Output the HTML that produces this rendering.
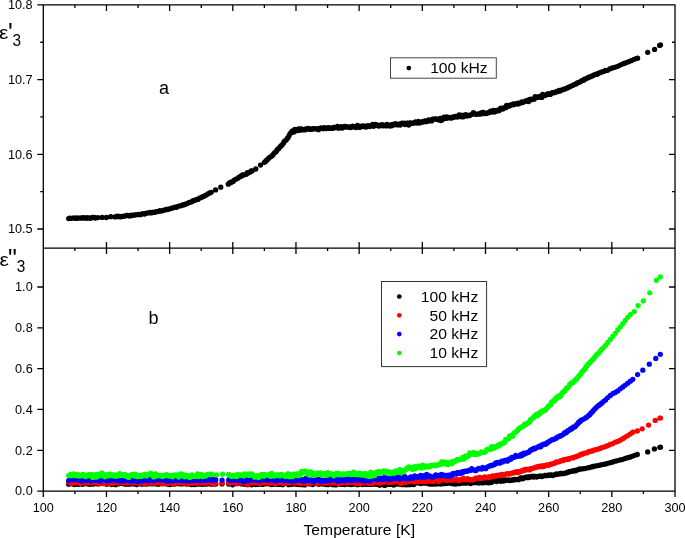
<!DOCTYPE html>
<html lang="en">
<head>
<meta charset="utf-8">
<title>Dielectric permittivity vs temperature</title>
<style>
html,body{margin:0;padding:0;background:#fff;}
body{width:685px;height:538px;overflow:hidden;}
svg{display:block;font-family:"Liberation Sans",Arial,sans-serif;fill:#000;}
.tk{font-size:12.7px;}
.lg{font-size:14.8px;}
.pl{font-size:18px;}
.ax{font-size:18px;}
.pr{font-size:25px;}
.sub{font-size:16.2px;}
.d{fill:none;stroke-width:5.3;stroke-linecap:round;}
</style>
</head>
<body>
<svg width="685" height="538" viewBox="0 0 685 538">
<rect width="685" height="538" fill="#fff"/>
<!-- measured points, top panel -->
<path class="d" stroke="#000" d="M68.7 218.6h0M69.7 218.2h0M70.6 218.3h0M71.6 218.3h0M72.5 218.1h0M73.5 218.2h0M74.4 218.2h0M75.4 217.8h0M76.3 218.4h0M77.3 218.3h0M78.2 218.0h0M79.2 218.1h0M80.1 218.2h0M81.1 218.0h0M82.0 218.0h0M83.0 217.7h0M83.9 218.1h0M84.9 218.0h0M85.8 218.0h0M86.8 217.7h0M87.7 218.3h0M88.7 217.9h0M89.6 217.8h0M90.6 218.3h0M91.5 217.8h0M92.5 217.5h0M93.4 217.7h0M94.4 217.3h0M95.3 218.0h0M97.8 217.6h0M102.1 217.4h0M106.4 217.5h0M110.7 216.7h0M115.0 216.9h0M117.2 216.2h0M118.1 216.5h0M119.1 216.3h0M120.0 216.8h0M121.0 216.8h0M121.9 216.3h0M122.9 216.4h0M123.8 216.1h0M124.8 216.1h0M125.7 215.8h0M126.7 215.5h0M127.6 215.4h0M128.6 215.7h0M129.5 216.0h0M130.5 215.5h0M131.4 215.2h0M132.4 215.6h0M133.3 215.2h0M134.3 215.0h0M135.2 215.0h0M136.2 214.8h0M137.1 214.6h0M138.1 214.3h0M139.0 214.6h0M140.0 214.4h0M140.9 214.5h0M141.9 214.1h0M142.8 213.6h0M143.8 213.8h0M144.7 214.0h0M145.6 213.5h0M146.6 213.2h0M147.5 213.0h0M148.5 212.8h0M149.4 212.8h0M150.4 212.5h0M151.3 212.9h0M152.3 212.3h0M153.2 212.3h0M154.2 212.4h0M155.1 212.2h0M156.1 211.7h0M157.0 211.6h0M158.0 211.6h0M158.9 211.2h0M159.9 210.7h0M160.8 211.1h0M161.8 210.9h0M162.7 210.6h0M163.7 210.1h0M164.6 210.0h0M165.6 209.7h0M166.5 209.5h0M167.5 209.5h0M168.4 209.3h0M169.4 208.9h0M170.3 208.6h0M171.3 208.4h0M172.2 208.0h0M173.2 207.7h0M174.1 207.3h0M175.1 207.2h0M176.0 207.4h0M177.0 206.9h0M177.9 206.4h0M178.9 206.1h0M179.8 205.8h0M180.8 205.8h0M181.7 205.5h0M182.7 204.9h0M183.6 204.9h0M184.6 204.3h0M185.5 204.3h0M186.5 203.7h0M187.4 203.6h0M188.4 202.8h0M189.3 202.4h0M190.3 202.2h0M191.2 201.9h0M192.2 201.4h0M193.1 200.7h0M194.1 200.6h0M195.0 200.2h0M196.0 199.7h0M196.9 199.3h0M197.9 199.4h0M198.8 198.6h0M199.8 198.0h0M200.7 197.8h0M201.7 197.2h0M202.6 196.7h0M203.6 196.4h0M204.5 195.8h0M205.5 195.3h0M206.4 194.9h0M207.4 194.3h0M208.3 193.6h0M209.3 193.2h0M210.2 192.7h0M211.2 192.3h0M215.6 189.9h0M220.8 187.2h0M228.3 184.2h0M229.2 183.2h0M230.2 182.4h0M231.1 182.5h0M232.1 181.6h0M233.0 181.4h0M234.0 180.5h0M234.9 179.8h0M235.9 179.1h0M236.8 178.8h0M237.8 178.3h0M238.7 177.5h0M239.7 177.1h0M240.6 176.1h0M241.6 176.1h0M242.5 175.0h0M243.5 175.0h0M244.4 174.8h0M245.4 174.5h0M246.3 174.2h0M247.3 172.7h0M248.2 173.0h0M249.2 172.6h0M250.1 172.1h0M251.1 171.0h0M252.0 170.9h0M255.8 169.0h0M260.5 165.1h0M264.4 162.3h0M265.3 161.7h0M266.3 160.4h0M267.2 159.9h0M268.2 158.6h0M269.1 157.9h0M270.1 157.1h0M271.0 156.6h0M272.0 155.7h0M272.9 154.9h0M273.9 153.3h0M274.8 152.6h0M275.8 151.9h0M276.7 150.7h0M277.7 149.1h0M278.6 148.7h0M279.6 147.3h0M280.5 146.5h0M281.5 145.4h0M282.4 144.6h0M283.4 143.2h0M284.3 141.5h0M285.3 140.6h0M286.2 140.1h0M287.2 138.5h0M288.1 137.4h0M289.1 135.6h0M290.0 133.6h0M291.0 133.0h0M291.9 131.5h0M292.9 130.7h0M293.8 132.1h0M294.8 129.4h0M295.7 130.8h0M296.7 130.7h0M297.6 130.1h0M298.6 128.9h0M299.5 130.4h0M300.5 128.8h0M301.4 128.8h0M302.4 129.3h0M303.3 129.9h0M304.3 129.5h0M305.2 129.8h0M306.2 129.0h0M307.1 129.1h0M308.1 128.5h0M309.0 128.9h0M310.0 129.4h0M310.9 128.9h0M311.9 129.3h0M312.8 128.6h0M313.8 128.6h0M314.7 128.9h0M315.7 128.7h0M316.6 129.1h0M317.6 128.8h0M318.5 129.7h0M319.5 128.4h0M320.4 128.3h0M321.4 127.8h0M322.3 128.4h0M323.3 128.7h0M324.2 127.7h0M325.2 128.1h0M326.1 128.5h0M327.1 127.9h0M328.0 127.6h0M329.0 128.4h0M329.9 127.8h0M330.9 128.0h0M331.8 128.4h0M332.8 128.4h0M333.7 127.4h0M334.7 127.3h0M335.6 127.7h0M336.6 127.4h0M337.5 126.4h0M338.5 128.2h0M339.4 127.4h0M340.4 127.8h0M341.3 126.6h0M342.3 128.1h0M343.2 126.9h0M344.2 127.2h0M345.1 126.3h0M346.1 127.0h0M347.0 127.0h0M348.0 126.9h0M348.9 127.3h0M349.9 127.0h0M350.8 127.5h0M351.8 126.6h0M352.7 126.2h0M353.7 126.8h0M354.6 127.1h0M355.6 127.5h0M356.5 127.1h0M357.5 125.5h0M358.4 126.8h0M359.4 127.4h0M360.3 126.5h0M361.3 126.1h0M362.2 126.5h0M363.2 126.0h0M364.1 126.6h0M365.1 126.2h0M366.0 127.0h0M367.0 126.4h0M367.9 125.6h0M368.9 126.4h0M369.8 126.5h0M370.8 125.6h0M371.7 125.6h0M372.7 124.4h0M373.6 126.3h0M374.6 125.4h0M375.5 124.4h0M376.5 124.6h0M377.4 125.5h0M378.4 126.0h0M379.3 125.5h0M380.3 125.8h0M381.2 124.8h0M382.2 124.6h0M383.1 125.8h0M384.1 125.5h0M385.0 125.2h0M386.0 125.9h0M386.9 124.5h0M387.9 124.8h0M388.8 125.6h0M389.8 126.0h0M390.7 124.8h0M391.7 125.8h0M392.6 124.4h0M393.6 124.9h0M394.5 124.5h0M395.5 123.6h0M396.4 124.6h0M397.4 124.9h0M398.3 124.2h0M399.3 124.2h0M400.2 125.0h0M401.2 123.3h0M402.1 123.1h0M403.1 123.6h0M404.0 123.2h0M405.0 124.6h0M405.9 123.9h0M406.9 123.1h0M407.8 123.2h0M408.8 125.1h0M409.7 123.0h0M410.7 122.8h0M411.6 123.3h0M412.6 123.4h0M413.5 123.1h0M414.5 122.3h0M415.4 122.0h0M416.4 123.0h0M417.3 122.5h0M418.3 121.4h0M419.2 123.0h0M420.2 122.7h0M421.1 121.9h0M422.1 121.8h0M423.0 122.0h0M424.0 121.3h0M424.9 120.8h0M425.9 121.7h0M426.8 120.6h0M427.8 121.3h0M428.7 119.9h0M429.7 120.4h0M430.6 120.0h0M431.6 120.9h0M432.5 119.1h0M433.5 118.8h0M434.4 119.2h0M435.4 118.8h0M436.3 119.0h0M437.3 119.5h0M438.2 119.6h0M439.2 120.1h0M440.1 118.5h0M441.1 120.5h0M442.0 120.0h0M443.0 118.6h0M443.9 117.2h0M444.9 118.4h0M445.8 118.4h0M446.8 116.9h0M447.7 118.1h0M448.7 117.8h0M449.6 117.3h0M450.6 118.0h0M451.5 118.1h0M452.5 117.1h0M453.4 117.4h0M454.4 116.7h0M455.3 116.5h0M456.3 116.8h0M457.2 117.0h0M458.2 116.2h0M459.1 115.0h0M460.1 116.6h0M461.0 115.2h0M462.0 116.1h0M462.9 116.9h0M463.9 115.8h0M464.8 114.9h0M465.8 114.6h0M466.7 116.1h0M467.7 115.3h0M468.6 115.5h0M469.6 115.6h0M470.5 114.9h0M471.5 114.6h0M472.4 114.1h0M473.4 112.7h0M474.3 113.5h0M475.3 114.3h0M476.2 114.1h0M477.2 114.3h0M478.1 113.9h0M479.1 113.9h0M480.0 114.2h0M481.0 113.0h0M481.9 113.3h0M482.9 112.4h0M483.8 113.7h0M484.8 113.0h0M485.7 113.1h0M486.7 113.6h0M487.6 113.1h0M488.6 112.3h0M489.5 112.6h0M490.5 111.1h0M491.4 112.0h0M492.4 111.7h0M493.3 110.5h0M494.3 112.1h0M495.2 110.7h0M496.2 111.3h0M497.1 110.3h0M498.1 110.8h0M499.0 110.7h0M500.0 109.0h0M500.9 108.2h0M501.9 108.7h0M502.8 109.0h0M503.8 107.9h0M504.7 107.4h0M505.7 107.7h0M506.6 105.4h0M507.6 106.3h0M508.5 105.5h0M509.5 106.1h0M510.4 105.2h0M511.4 104.7h0M512.3 104.9h0M513.3 104.0h0M514.2 104.6h0M515.2 103.9h0M516.1 103.8h0M517.1 103.3h0M518.0 104.0h0M519.0 103.1h0M519.9 103.2h0M520.9 102.9h0M521.8 101.8h0M522.8 102.4h0M523.7 102.0h0M524.7 101.6h0M525.6 100.9h0M526.6 100.6h0M527.5 101.1h0M528.5 101.6h0M529.4 99.5h0M530.4 100.0h0M531.3 99.2h0M532.3 99.6h0M533.2 99.1h0M534.2 99.2h0M535.1 96.6h0M536.1 97.6h0M537.0 97.1h0M538.0 97.4h0M538.9 96.7h0M539.9 96.5h0M540.8 97.0h0M541.8 97.4h0M542.7 94.3h0M543.7 95.5h0M544.6 95.6h0M545.6 95.2h0M546.5 94.7h0M547.5 93.8h0M548.4 93.7h0M549.4 94.4h0M550.3 94.4h0M551.3 93.5h0M552.2 92.6h0M553.2 92.9h0M554.1 92.4h0M555.1 92.6h0M556.0 92.0h0M557.0 91.3h0M557.9 91.5h0M558.9 90.3h0M559.8 91.2h0M560.8 90.6h0M561.7 89.8h0M562.7 89.8h0M563.6 89.1h0M564.6 89.2h0M565.5 88.8h0M566.5 88.2h0M567.4 88.1h0M568.4 87.5h0M569.3 87.0h0M570.3 86.5h0M571.2 86.1h0M572.2 85.6h0M573.1 85.3h0M574.1 84.6h0M575.0 84.4h0M576.0 84.0h0M576.9 83.2h0M577.9 82.6h0M578.8 82.5h0M579.8 82.1h0M580.7 81.4h0M581.7 80.7h0M582.6 80.5h0M583.6 80.3h0M584.5 79.1h0M585.5 79.1h0M586.4 78.5h0M587.4 77.9h0M588.3 77.7h0M589.3 76.9h0M590.2 76.8h0M591.2 76.6h0M592.1 76.0h0M593.1 75.4h0M594.0 74.9h0M595.0 74.6h0M595.9 74.1h0M596.9 74.4h0M598.0 73.7h0M599.1 73.0h0M600.5 72.5h0M601.9 71.9h0M603.6 71.4h0M605.4 70.5h0M607.5 70.3h0M609.8 68.9h0M612.2 68.0h0M614.6 67.3h0M617.0 66.6h0M619.3 65.6h0M621.7 64.3h0M624.1 63.5h0M626.5 62.6h0M628.8 61.7h0M631.2 60.7h0M633.6 59.6h0M636.0 58.6h0M637.6 58.2h0M647.7 52.3h0M654.6 49.4h0M659.6 45.4h0M660.5 44.9h0"/>
<!-- measured points, bottom panel -->
<path class="d" stroke="#000" d="M68.7 484.2h0M69.7 483.3h0M70.7 483.3h0M71.7 483.1h0M72.7 484.0h0M73.7 482.7h0M74.7 484.5h0M75.7 483.4h0M76.7 483.9h0M77.7 483.7h0M78.7 484.4h0M79.7 482.9h0M80.7 483.7h0M81.7 483.7h0M82.7 484.3h0M83.7 483.3h0M84.7 483.7h0M85.7 483.3h0M86.7 483.7h0M87.7 483.9h0M88.7 483.3h0M89.7 484.3h0M90.7 484.2h0M91.7 484.0h0M92.7 484.2h0M93.7 483.5h0M94.7 483.7h0M95.7 483.3h0M96.7 483.6h0M97.7 483.9h0M98.7 483.4h0M99.7 483.5h0M100.7 483.4h0M101.7 483.3h0M102.7 483.4h0M103.7 483.7h0M104.7 483.1h0M105.7 483.6h0M106.7 484.2h0M107.7 483.9h0M108.7 483.6h0M109.7 483.4h0M110.7 483.5h0M111.7 484.6h0M112.7 483.9h0M113.7 483.6h0M114.7 483.9h0M115.7 484.7h0M116.7 483.8h0M117.7 483.9h0M118.7 483.7h0M119.7 483.4h0M120.7 483.0h0M121.7 483.3h0M122.7 483.4h0M123.7 483.8h0M124.7 484.0h0M125.7 484.1h0M126.7 483.9h0M127.7 484.1h0M128.7 483.4h0M129.7 484.2h0M130.7 483.8h0M131.7 483.5h0M132.7 483.8h0M133.7 483.5h0M134.7 484.1h0M135.7 484.3h0M136.7 484.6h0M137.7 483.1h0M138.7 483.1h0M139.7 483.5h0M140.7 483.8h0M141.7 484.2h0M142.7 483.9h0M143.7 482.9h0M144.7 483.6h0M145.7 484.0h0M146.7 483.7h0M147.7 483.9h0M148.7 483.5h0M149.7 483.6h0M150.7 483.7h0M151.7 483.8h0M152.7 483.8h0M153.7 483.7h0M154.7 483.4h0M155.7 483.9h0M156.7 483.8h0M157.7 484.2h0M158.7 484.2h0M159.7 483.8h0M160.7 483.5h0M161.7 483.3h0M162.7 483.8h0M163.7 483.6h0M164.7 483.4h0M165.7 483.7h0M166.7 483.5h0M167.7 484.2h0M168.7 483.8h0M169.7 484.5h0M170.7 484.1h0M171.7 484.2h0M172.7 483.4h0M173.7 483.8h0M174.7 484.0h0M175.7 483.2h0M176.7 483.4h0M177.7 483.5h0M178.7 482.9h0M179.7 483.6h0M180.7 483.9h0M181.7 483.2h0M182.7 483.8h0M183.7 483.1h0M184.7 483.7h0M185.7 483.0h0M186.7 484.1h0M187.7 483.8h0M188.7 483.7h0M189.7 483.4h0M190.7 484.3h0M191.7 484.6h0M192.7 483.0h0M193.7 484.3h0M194.7 484.5h0M195.7 483.9h0M196.7 483.3h0M197.7 484.2h0M198.7 483.8h0M199.7 483.6h0M200.7 483.4h0M201.7 484.2h0M202.7 484.3h0M203.7 483.6h0M204.7 484.1h0M205.7 483.3h0M206.7 484.1h0M207.7 483.8h0M208.7 483.7h0M209.7 483.7h0M210.7 484.1h0M211.7 484.1h0M212.7 484.0h0M213.7 483.9h0M214.7 483.8h0M215.7 484.1h0M222.0 483.9h0M228.7 484.1h0M229.7 483.7h0M230.7 482.8h0M231.7 484.3h0M232.7 484.8h0M233.7 484.0h0M234.7 483.7h0M235.7 483.6h0M236.7 483.6h0M237.7 483.6h0M238.7 483.1h0M239.7 483.4h0M240.7 483.2h0M241.7 483.9h0M242.7 483.7h0M243.7 484.1h0M244.7 483.8h0M245.7 484.3h0M246.7 483.9h0M247.7 484.7h0M248.7 482.9h0M249.7 483.4h0M250.7 484.1h0M251.7 484.8h0M252.7 483.6h0M253.7 483.8h0M254.7 483.8h0M255.7 484.5h0M256.7 483.9h0M257.7 484.4h0M258.7 484.0h0M259.7 483.6h0M260.7 484.2h0M261.7 484.2h0M262.7 484.4h0M263.7 483.7h0M264.7 483.4h0M265.7 483.8h0M266.7 483.7h0M267.7 483.7h0M268.7 483.6h0M269.7 484.1h0M270.7 483.8h0M271.7 484.5h0M272.7 484.2h0M273.7 484.1h0M274.7 483.1h0M275.7 484.1h0M276.7 484.1h0M277.7 484.3h0M278.7 484.4h0M279.7 483.8h0M280.7 484.3h0M281.7 483.7h0M282.7 484.7h0M283.7 483.2h0M284.7 483.0h0M285.7 483.1h0M286.7 483.4h0M287.7 483.3h0M288.7 484.7h0M289.7 483.7h0M290.7 483.3h0M291.7 484.3h0M292.7 483.6h0M293.7 483.3h0M294.7 484.1h0M295.7 484.0h0M296.7 483.6h0M297.7 484.4h0M298.7 483.9h0M299.7 484.6h0M300.7 484.2h0M301.7 484.6h0M302.7 484.0h0M303.7 483.4h0M304.7 484.9h0M305.7 483.5h0M306.7 483.7h0M307.7 483.4h0M308.7 483.7h0M309.7 483.9h0M310.7 483.9h0M311.7 484.1h0M312.7 484.6h0M313.7 483.7h0M314.7 483.2h0M315.7 483.3h0M316.7 483.5h0M317.7 483.1h0M318.7 484.2h0M319.7 483.7h0M320.7 483.8h0M321.7 483.9h0M322.7 483.4h0M323.7 483.6h0M324.7 484.3h0M325.7 484.2h0M326.7 483.8h0M327.7 484.7h0M328.7 483.4h0M329.7 483.8h0M330.7 483.8h0M331.7 482.7h0M332.7 484.7h0M333.7 484.1h0M334.7 483.5h0M335.7 484.9h0M336.7 484.3h0M337.7 484.2h0M338.7 483.8h0M339.7 484.1h0M340.7 483.4h0M341.7 484.4h0M342.7 483.9h0M343.7 484.2h0M344.7 484.6h0M345.7 484.2h0M346.7 484.1h0M347.7 484.1h0M348.7 483.7h0M349.7 484.3h0M350.7 484.6h0M351.7 484.2h0M352.7 484.3h0M353.7 483.5h0M354.7 483.6h0M355.7 483.3h0M356.7 484.5h0M357.7 483.9h0M358.7 484.6h0M359.7 483.7h0M360.7 483.8h0M361.7 484.1h0M362.7 484.5h0M363.7 484.1h0M364.7 484.2h0M365.7 484.2h0M366.7 484.4h0M367.7 483.9h0M368.7 484.4h0M369.7 484.3h0M370.7 484.3h0M371.7 484.4h0M372.7 483.9h0M373.7 484.1h0M374.7 484.0h0M375.7 484.2h0M376.7 484.4h0M377.7 483.7h0M378.7 484.5h0M379.7 485.2h0M380.7 483.8h0M381.7 484.3h0M382.7 484.4h0M383.7 484.7h0M384.7 485.4h0M385.7 484.6h0M386.7 484.1h0M387.7 484.4h0M388.7 483.7h0M389.7 484.3h0M390.7 483.8h0M391.7 484.3h0M392.7 483.4h0M393.7 485.0h0M394.7 484.2h0M395.7 484.3h0M396.7 484.1h0M397.7 483.9h0M398.7 483.9h0M399.7 484.3h0M400.7 484.1h0M401.7 484.6h0M402.7 484.1h0M403.7 484.7h0M404.7 484.7h0M405.7 484.0h0M406.7 484.8h0M407.7 484.2h0M408.7 484.7h0M409.7 484.4h0M410.7 484.6h0M411.7 483.6h0M412.7 483.9h0M413.7 484.5h0M414.7 483.6h0M415.7 483.0h0M416.7 482.9h0M417.7 482.5h0M418.7 482.5h0M419.7 483.0h0M420.7 483.6h0M421.7 482.8h0M422.7 483.1h0M423.7 482.9h0M424.7 483.0h0M425.7 483.0h0M426.7 483.0h0M427.7 483.4h0M428.7 482.9h0M429.7 484.0h0M430.7 484.1h0M431.7 483.7h0M432.7 484.2h0M433.7 483.6h0M434.7 483.8h0M435.7 484.1h0M436.7 483.9h0M437.7 483.8h0M438.7 483.6h0M439.7 483.6h0M440.7 484.1h0M441.7 482.8h0M442.7 483.7h0M443.7 483.3h0M444.7 483.6h0M445.7 483.4h0M446.7 481.9h0M447.7 483.3h0M448.7 483.2h0M449.7 483.1h0M450.7 482.9h0M451.7 483.5h0M452.7 482.9h0M453.7 483.8h0M454.7 483.2h0M455.7 484.0h0M456.7 482.8h0M457.7 482.6h0M458.7 483.7h0M459.7 483.6h0M460.7 483.2h0M461.7 482.3h0M462.7 482.7h0M463.7 483.2h0M464.7 482.9h0M465.7 483.0h0M466.7 483.0h0M467.7 482.7h0M468.7 482.8h0M469.7 482.3h0M470.7 483.6h0M471.7 482.5h0M472.7 482.7h0M473.7 481.9h0M474.7 482.5h0M475.7 481.3h0M476.7 482.5h0M477.7 482.1h0M478.7 483.1h0M479.7 481.7h0M480.7 482.3h0M481.7 482.5h0M482.7 482.9h0M483.7 482.3h0M484.7 482.6h0M485.7 481.7h0M486.7 482.3h0M487.7 482.7h0M488.7 482.8h0M489.7 481.9h0M490.7 482.6h0M491.7 482.2h0M492.7 481.3h0M493.7 480.2h0M494.7 480.4h0M495.7 480.8h0M496.7 481.6h0M497.7 481.1h0M498.7 480.0h0M499.7 480.7h0M500.7 481.3h0M501.7 480.3h0M502.7 480.0h0M503.7 481.1h0M504.7 480.2h0M505.7 479.9h0M506.7 480.3h0M507.7 480.1h0M508.7 479.9h0M509.7 480.5h0M510.7 480.4h0M511.7 480.1h0M512.7 479.6h0M513.7 480.0h0M514.7 479.4h0M515.7 479.5h0M516.7 479.6h0M517.7 479.3h0M518.7 479.7h0M519.7 479.0h0M520.7 478.0h0M521.7 478.0h0M522.7 478.8h0M523.7 477.8h0M524.7 477.8h0M525.7 477.1h0M526.7 477.6h0M527.7 476.9h0M528.7 477.5h0M529.7 476.6h0M530.7 477.1h0M531.7 476.8h0M532.7 476.2h0M533.7 477.0h0M534.7 476.3h0M535.7 476.4h0M536.7 477.0h0M537.7 476.5h0M538.7 476.4h0M539.7 476.3h0M540.7 476.0h0M541.7 476.6h0M542.7 476.3h0M543.7 475.8h0M544.7 475.5h0M545.7 475.5h0M546.7 475.7h0M547.7 475.3h0M548.7 474.8h0M549.7 475.3h0M550.7 475.0h0M551.7 475.0h0M552.7 475.6h0M553.7 474.9h0M554.7 474.7h0M555.7 474.1h0M556.7 474.0h0M557.7 474.3h0M558.7 473.8h0M559.7 473.9h0M560.7 473.4h0M561.7 473.3h0M562.7 473.6h0M563.7 473.6h0M564.7 473.1h0M565.7 473.0h0M566.7 472.8h0M567.7 472.4h0M568.7 471.7h0M569.7 471.7h0M570.7 471.6h0M571.7 471.2h0M572.7 471.2h0M573.7 470.7h0M574.7 470.7h0M575.7 470.8h0M576.7 469.9h0M577.7 469.8h0M578.7 469.6h0M579.7 469.0h0M580.7 469.1h0M581.7 468.8h0M582.7 468.8h0M583.7 468.7h0M584.7 468.6h0M585.7 468.3h0M586.7 468.1h0M587.7 467.8h0M588.7 467.7h0M589.7 467.6h0M590.7 467.1h0M591.7 466.9h0M592.7 466.5h0M593.7 466.5h0M594.7 466.1h0M595.7 465.9h0M596.7 465.8h0M597.8 465.6h0M599.0 465.4h0M600.4 465.1h0M601.9 464.6h0M603.7 464.3h0M605.6 464.0h0M607.8 463.3h0M610.3 462.7h0M612.8 462.0h0M615.3 461.2h0M617.8 460.6h0M620.3 459.9h0M622.8 459.3h0M625.3 458.4h0M627.8 457.7h0M630.3 457.0h0M632.8 456.1h0M635.3 455.1h0M637.3 454.5h0M647.7 451.9h0M654.4 448.9h0M659.8 447.3h0M660.5 447.2h0"/>
<path class="d" stroke="#f00" d="M68.7 482.4h0M69.7 482.6h0M70.7 481.7h0M71.7 483.3h0M72.7 481.9h0M73.7 482.2h0M74.7 482.8h0M75.7 482.0h0M76.7 482.1h0M77.7 482.2h0M78.7 482.8h0M79.7 483.6h0M80.7 482.7h0M81.7 482.2h0M82.7 482.9h0M83.7 482.4h0M84.7 482.6h0M85.7 483.1h0M86.7 482.3h0M87.7 482.6h0M88.7 482.3h0M89.7 482.6h0M90.7 482.8h0M91.7 482.3h0M92.7 482.6h0M93.7 482.7h0M94.7 482.5h0M95.7 482.2h0M96.7 482.1h0M97.7 482.7h0M98.7 482.7h0M99.7 483.8h0M100.7 481.8h0M101.7 482.9h0M102.7 483.0h0M103.7 483.4h0M104.7 483.0h0M105.7 482.4h0M106.7 482.7h0M107.7 483.0h0M108.7 482.6h0M109.7 483.1h0M110.7 482.0h0M111.7 483.5h0M112.7 483.3h0M113.7 482.5h0M114.7 482.8h0M115.7 482.5h0M116.7 482.1h0M117.7 482.5h0M118.7 482.9h0M119.7 482.3h0M120.7 482.2h0M121.7 482.4h0M122.7 482.6h0M123.7 483.0h0M124.7 482.3h0M125.7 482.8h0M126.7 482.8h0M127.7 481.9h0M128.7 482.5h0M129.7 482.7h0M130.7 482.8h0M131.7 482.9h0M132.7 481.9h0M133.7 482.8h0M134.7 482.4h0M135.7 482.1h0M136.7 482.9h0M137.7 483.0h0M138.7 482.4h0M139.7 483.1h0M140.7 482.6h0M141.7 482.8h0M142.7 482.4h0M143.7 483.6h0M144.7 481.8h0M145.7 482.9h0M146.7 483.3h0M147.7 482.1h0M148.7 482.8h0M149.7 482.8h0M150.7 483.1h0M151.7 483.2h0M152.7 482.4h0M153.7 482.0h0M154.7 483.1h0M155.7 483.1h0M156.7 482.3h0M157.7 482.7h0M158.7 482.7h0M159.7 482.8h0M160.7 482.7h0M161.7 483.3h0M162.7 482.0h0M163.7 483.3h0M164.7 483.0h0M165.7 482.7h0M166.7 483.3h0M167.7 481.8h0M168.7 483.3h0M169.7 482.9h0M170.7 482.3h0M171.7 483.0h0M172.7 482.7h0M173.7 483.9h0M174.7 483.5h0M175.7 483.0h0M176.7 482.5h0M177.7 482.5h0M178.7 482.7h0M179.7 482.5h0M180.7 482.4h0M181.7 482.5h0M182.7 482.6h0M183.7 482.5h0M184.7 482.4h0M185.7 482.4h0M186.7 483.9h0M187.7 482.3h0M188.7 482.5h0M189.7 483.1h0M190.7 482.8h0M191.7 483.0h0M192.7 483.2h0M193.7 483.3h0M194.7 483.1h0M195.7 482.3h0M196.7 483.2h0M197.7 481.9h0M198.7 482.6h0M199.7 482.4h0M200.7 482.2h0M201.7 482.9h0M202.7 482.5h0M203.7 483.0h0M204.7 482.0h0M205.7 483.0h0M206.7 482.9h0M207.7 482.8h0M208.7 482.1h0M209.7 482.6h0M210.7 482.1h0M211.7 481.9h0M212.7 484.2h0M213.7 483.2h0M214.7 483.6h0M215.7 482.6h0M222.2 483.1h0M228.7 483.0h0M229.7 482.9h0M230.7 482.6h0M231.7 482.4h0M232.7 481.6h0M233.7 482.8h0M234.7 482.8h0M235.7 483.1h0M236.7 482.5h0M237.7 483.3h0M238.7 482.3h0M239.7 482.0h0M240.7 482.9h0M241.7 482.4h0M242.7 482.1h0M243.7 482.8h0M244.7 483.1h0M245.7 482.9h0M246.7 483.0h0M247.7 484.5h0M248.7 483.0h0M249.7 483.2h0M250.7 481.7h0M251.7 482.7h0M252.7 482.9h0M253.7 482.4h0M254.7 482.2h0M255.7 482.8h0M256.7 482.5h0M257.7 482.4h0M258.7 483.2h0M259.7 483.3h0M260.7 482.9h0M261.7 482.5h0M262.7 482.9h0M263.7 483.0h0M264.7 482.9h0M265.7 482.0h0M266.7 482.5h0M267.7 482.8h0M268.7 483.0h0M269.7 483.1h0M270.7 483.1h0M271.7 482.3h0M272.7 482.4h0M273.7 482.2h0M274.7 483.5h0M275.7 482.8h0M276.7 483.0h0M277.7 483.2h0M278.7 482.6h0M279.7 482.2h0M280.7 482.5h0M281.7 482.6h0M282.7 483.3h0M283.7 483.1h0M284.7 482.3h0M285.7 483.1h0M286.7 483.1h0M287.7 482.3h0M288.7 482.7h0M289.7 481.9h0M290.7 482.8h0M291.7 482.5h0M292.7 482.1h0M293.7 482.4h0M294.7 482.8h0M295.7 482.4h0M296.7 482.8h0M297.7 482.9h0M298.7 482.4h0M299.7 482.7h0M300.7 483.8h0M301.7 483.0h0M302.7 482.7h0M303.7 483.1h0M304.7 482.5h0M305.7 483.5h0M306.7 483.1h0M307.7 483.3h0M308.7 483.1h0M309.7 482.8h0M310.7 483.0h0M311.7 482.7h0M312.7 482.3h0M313.7 482.2h0M314.7 482.4h0M315.7 481.6h0M316.7 483.5h0M317.7 482.0h0M318.7 482.7h0M319.7 482.3h0M320.7 482.0h0M321.7 482.8h0M322.7 482.8h0M323.7 482.9h0M324.7 483.1h0M325.7 482.6h0M326.7 482.9h0M327.7 482.9h0M328.7 482.5h0M329.7 482.5h0M330.7 482.8h0M331.7 482.7h0M332.7 482.8h0M333.7 481.8h0M334.7 482.8h0M335.7 483.0h0M336.7 482.8h0M337.7 483.0h0M338.7 483.7h0M339.7 483.0h0M340.7 483.3h0M341.7 482.6h0M342.7 482.5h0M343.7 482.6h0M344.7 482.3h0M345.7 482.7h0M346.7 482.2h0M347.7 482.6h0M348.7 482.0h0M349.7 481.9h0M350.7 482.4h0M351.7 482.2h0M352.7 482.4h0M353.7 482.4h0M354.7 482.6h0M355.7 483.3h0M356.7 483.5h0M357.7 483.3h0M358.7 482.9h0M359.7 483.7h0M360.7 482.4h0M361.7 482.2h0M362.7 483.1h0M363.7 482.9h0M364.7 482.8h0M365.7 482.9h0M366.7 482.2h0M367.7 482.4h0M368.7 483.4h0M369.7 483.2h0M370.7 482.4h0M371.7 483.4h0M372.7 482.1h0M373.7 482.3h0M374.7 482.6h0M375.7 482.0h0M376.7 482.4h0M377.7 482.5h0M378.7 482.5h0M379.7 483.0h0M380.7 482.9h0M381.7 482.0h0M382.7 482.0h0M383.7 482.0h0M384.7 481.7h0M385.7 481.3h0M386.7 481.9h0M387.7 482.1h0M388.7 481.7h0M389.7 482.4h0M390.7 481.4h0M391.7 481.3h0M392.7 482.2h0M393.7 481.6h0M394.7 481.4h0M395.7 481.7h0M396.7 481.4h0M397.7 481.8h0M398.7 481.1h0M399.7 481.7h0M400.7 483.4h0M401.7 482.2h0M402.7 481.4h0M403.7 482.4h0M404.7 482.2h0M405.7 482.3h0M406.7 481.5h0M407.7 481.0h0M408.7 481.7h0M409.7 481.4h0M410.7 480.3h0M411.7 481.5h0M412.7 481.2h0M413.7 481.8h0M414.7 481.3h0M415.7 481.8h0M416.7 481.5h0M417.7 481.6h0M418.7 481.3h0M419.7 481.1h0M420.7 481.2h0M421.7 481.4h0M422.7 481.2h0M423.7 481.6h0M424.7 480.9h0M425.7 480.9h0M426.7 481.5h0M427.7 480.7h0M428.7 480.9h0M429.7 480.4h0M430.7 480.7h0M431.7 481.4h0M432.7 480.8h0M433.7 481.3h0M434.7 480.2h0M435.7 480.1h0M436.7 480.8h0M437.7 480.0h0M438.7 481.6h0M439.7 480.8h0M440.7 479.6h0M441.7 479.8h0M442.7 479.5h0M443.7 479.8h0M444.7 479.6h0M445.7 480.1h0M446.7 480.4h0M447.7 479.7h0M448.7 479.3h0M449.7 480.1h0M450.7 479.7h0M451.7 480.3h0M452.7 479.8h0M453.7 480.2h0M454.7 480.0h0M455.7 479.7h0M456.7 479.6h0M457.7 480.0h0M458.7 480.7h0M459.7 479.9h0M460.7 479.4h0M461.7 479.6h0M462.7 479.2h0M463.7 478.5h0M464.7 479.2h0M465.7 479.7h0M466.7 478.9h0M467.7 478.7h0M468.7 479.4h0M469.7 480.0h0M470.7 479.6h0M471.7 479.6h0M472.7 480.0h0M473.7 479.5h0M474.7 478.9h0M475.7 478.2h0M476.7 478.1h0M477.7 477.8h0M478.7 478.1h0M479.7 477.3h0M480.7 478.4h0M481.7 477.8h0M482.7 477.6h0M483.7 478.1h0M484.7 476.8h0M485.7 477.2h0M486.7 477.3h0M487.7 477.7h0M488.7 477.0h0M489.7 477.6h0M490.7 476.6h0M491.7 476.8h0M492.7 476.0h0M493.7 476.6h0M494.7 475.9h0M495.7 476.0h0M496.7 475.5h0M497.7 475.1h0M498.7 475.3h0M499.7 475.7h0M500.7 474.7h0M501.7 474.5h0M502.7 474.9h0M503.7 475.3h0M504.7 474.3h0M505.7 474.2h0M506.7 474.2h0M507.7 473.7h0M508.7 473.8h0M509.7 474.0h0M510.7 473.3h0M511.7 473.1h0M512.7 473.2h0M513.7 472.7h0M514.7 472.1h0M515.7 471.9h0M516.7 471.6h0M517.7 472.7h0M518.7 471.6h0M519.7 471.6h0M520.7 471.5h0M521.7 470.6h0M522.7 471.1h0M523.7 470.4h0M524.7 469.5h0M525.7 470.0h0M526.7 469.4h0M527.7 469.4h0M528.7 469.4h0M529.7 469.9h0M530.7 468.6h0M531.7 468.4h0M532.7 468.4h0M533.7 468.1h0M534.7 467.7h0M535.7 467.2h0M536.7 467.0h0M537.7 467.0h0M538.7 466.5h0M539.7 466.5h0M540.7 466.1h0M541.7 466.7h0M542.7 465.6h0M543.7 466.5h0M544.7 465.6h0M545.7 465.3h0M546.7 465.0h0M547.7 465.4h0M548.7 465.2h0M549.7 464.4h0M550.7 464.4h0M551.7 463.9h0M552.7 463.6h0M553.7 463.5h0M554.7 463.3h0M555.7 462.2h0M556.7 461.8h0M557.7 462.1h0M558.7 461.7h0M559.7 461.6h0M560.7 460.6h0M561.7 460.4h0M562.7 460.7h0M563.7 459.7h0M564.7 459.9h0M565.7 459.5h0M566.7 459.4h0M567.7 459.0h0M568.7 459.3h0M569.7 458.3h0M570.7 458.1h0M571.7 457.8h0M572.7 457.9h0M573.7 457.4h0M574.7 457.2h0M575.7 456.7h0M576.7 456.4h0M577.7 456.0h0M578.7 455.8h0M579.7 455.1h0M580.7 454.5h0M581.7 454.5h0M582.7 454.0h0M583.7 453.5h0M584.7 453.2h0M585.7 452.8h0M586.7 452.9h0M587.7 452.2h0M588.7 451.7h0M589.7 451.6h0M590.7 451.2h0M591.7 451.2h0M592.7 450.7h0M593.7 450.2h0M594.7 450.1h0M595.7 449.7h0M596.7 449.5h0M597.8 449.2h0M599.0 448.7h0M600.4 448.3h0M601.9 447.7h0M603.7 447.1h0M605.6 446.5h0M607.8 445.7h0M610.3 444.5h0M612.8 443.6h0M615.3 442.2h0M617.8 441.4h0M620.3 440.2h0M622.8 438.7h0M625.3 437.1h0M627.8 435.6h0M630.3 433.9h0M632.8 432.2h0M637.3 431.0h0M642.2 428.8h0M648.6 425.1h0M655.2 420.4h0M660.0 418.2h0M660.5 418.1h0"/>
<path class="d" stroke="#00f" d="M68.7 480.6h0M69.7 479.8h0M70.7 479.7h0M71.7 478.5h0M72.7 479.5h0M73.7 479.5h0M74.7 479.7h0M75.7 479.3h0M76.7 479.7h0M77.7 479.5h0M78.7 479.1h0M79.7 480.4h0M80.7 480.5h0M81.7 481.0h0M82.7 480.1h0M83.7 479.8h0M84.7 479.7h0M85.7 479.1h0M86.7 480.6h0M87.7 479.4h0M88.7 479.4h0M89.7 480.0h0M90.7 481.0h0M91.7 480.3h0M92.7 479.5h0M93.7 479.6h0M94.7 480.3h0M95.7 479.8h0M96.7 479.5h0M97.7 479.8h0M98.7 480.4h0M99.7 481.2h0M100.7 479.2h0M101.7 479.6h0M102.7 479.5h0M103.7 478.6h0M104.7 479.6h0M105.7 479.6h0M106.7 481.0h0M107.7 480.3h0M108.7 479.4h0M109.7 480.7h0M110.7 480.0h0M111.7 479.1h0M112.7 479.8h0M113.7 479.8h0M114.7 479.7h0M115.7 480.3h0M116.7 478.9h0M117.7 480.1h0M118.7 480.8h0M119.7 480.7h0M120.7 480.8h0M121.7 480.7h0M122.7 480.9h0M123.7 479.4h0M124.7 480.5h0M125.7 478.9h0M126.7 479.7h0M127.7 478.9h0M128.7 480.7h0M129.7 480.8h0M130.7 480.0h0M131.7 481.2h0M132.7 479.8h0M133.7 480.4h0M134.7 480.5h0M135.7 479.8h0M136.7 480.6h0M137.7 481.5h0M138.7 479.6h0M139.7 480.7h0M140.7 480.0h0M141.7 481.1h0M142.7 480.3h0M143.7 480.4h0M144.7 480.4h0M145.7 480.2h0M146.7 479.2h0M147.7 480.8h0M148.7 479.1h0M149.7 480.1h0M150.7 480.3h0M151.7 479.5h0M152.7 480.1h0M153.7 480.7h0M154.7 480.0h0M155.7 479.4h0M156.7 478.2h0M157.7 479.4h0M158.7 479.6h0M159.7 479.6h0M160.7 479.2h0M161.7 480.0h0M162.7 479.4h0M163.7 479.6h0M164.7 480.1h0M165.7 479.2h0M166.7 479.7h0M167.7 481.2h0M168.7 480.6h0M169.7 479.4h0M170.7 480.2h0M171.7 480.6h0M172.7 481.0h0M173.7 480.3h0M174.7 479.8h0M175.7 479.6h0M176.7 480.4h0M177.7 480.2h0M178.7 479.7h0M179.7 479.9h0M180.7 479.8h0M181.7 480.5h0M182.7 479.7h0M183.7 480.4h0M184.7 480.6h0M185.7 480.4h0M186.7 479.6h0M187.7 480.9h0M188.7 479.8h0M189.7 480.6h0M190.7 480.0h0M191.7 479.4h0M192.7 480.6h0M193.7 480.5h0M194.7 480.2h0M195.7 480.3h0M196.7 479.6h0M197.7 479.4h0M198.7 479.6h0M199.7 480.8h0M200.7 480.2h0M201.7 479.4h0M202.7 480.1h0M203.7 479.6h0M204.7 479.6h0M205.7 480.4h0M206.7 479.5h0M207.7 478.8h0M208.7 479.2h0M209.7 479.8h0M210.7 479.8h0M211.7 480.5h0M212.7 479.3h0M213.7 480.2h0M214.7 480.0h0M215.7 479.7h0M222.1 480.2h0M228.7 480.0h0M229.7 479.2h0M230.7 480.4h0M231.7 479.0h0M232.7 479.9h0M233.7 479.9h0M234.7 480.3h0M235.7 479.6h0M236.7 480.1h0M237.7 480.0h0M238.7 480.7h0M239.7 479.6h0M240.7 480.1h0M241.7 479.9h0M242.7 479.3h0M243.7 481.6h0M244.7 479.9h0M245.7 479.1h0M246.7 480.8h0M247.7 479.3h0M248.7 480.2h0M249.7 480.5h0M250.7 479.6h0M251.7 479.7h0M252.7 479.7h0M253.7 479.9h0M254.7 478.9h0M255.7 479.1h0M256.7 479.7h0M257.7 480.4h0M258.7 480.1h0M259.7 480.7h0M260.7 480.1h0M261.7 479.4h0M262.7 479.7h0M263.7 478.6h0M264.7 479.3h0M265.7 479.3h0M266.7 480.1h0M267.7 480.4h0M268.7 479.6h0M269.7 479.6h0M270.7 479.0h0M271.7 479.8h0M272.7 480.0h0M273.7 480.0h0M274.7 479.3h0M275.7 481.0h0M276.7 480.5h0M277.7 479.8h0M278.7 479.6h0M279.7 479.8h0M280.7 480.1h0M281.7 480.0h0M282.7 480.2h0M283.7 480.3h0M284.7 480.7h0M285.7 480.5h0M286.7 479.7h0M287.7 480.0h0M288.7 479.5h0M289.7 479.4h0M290.7 480.9h0M291.7 479.5h0M292.7 481.0h0M293.7 479.7h0M294.7 480.0h0M295.7 480.5h0M296.7 479.8h0M297.7 480.0h0M298.7 479.7h0M299.7 479.6h0M300.7 479.8h0M301.7 479.6h0M302.7 481.0h0M303.7 479.9h0M304.7 481.0h0M305.7 478.4h0M306.7 479.9h0M307.7 480.3h0M308.7 479.8h0M309.7 480.6h0M310.7 480.4h0M311.7 479.9h0M312.7 480.3h0M313.7 481.7h0M314.7 480.1h0M315.7 480.1h0M316.7 479.7h0M317.7 480.0h0M318.7 479.2h0M319.7 479.8h0M320.7 481.4h0M321.7 480.5h0M322.7 480.2h0M323.7 480.5h0M324.7 480.9h0M325.7 480.1h0M326.7 480.9h0M327.7 480.3h0M328.7 479.7h0M329.7 480.6h0M330.7 478.2h0M331.7 479.3h0M332.7 479.9h0M333.7 479.2h0M334.7 479.7h0M335.7 479.4h0M336.7 479.3h0M337.7 481.3h0M338.7 480.0h0M339.7 479.7h0M340.7 480.5h0M341.7 479.6h0M342.7 480.3h0M343.7 480.0h0M344.7 480.7h0M345.7 478.8h0M346.7 480.1h0M347.7 479.7h0M348.7 478.9h0M349.7 480.2h0M350.7 479.0h0M351.7 480.4h0M352.7 479.7h0M353.7 479.8h0M354.7 479.5h0M355.7 480.1h0M356.7 478.5h0M357.7 479.8h0M358.7 479.4h0M359.7 480.0h0M360.7 479.9h0M361.7 480.2h0M362.7 479.3h0M363.7 480.9h0M364.7 481.1h0M365.7 479.6h0M366.7 479.7h0M367.7 480.0h0M368.7 480.6h0M369.7 481.0h0M370.7 479.1h0M371.7 479.3h0M372.7 478.9h0M373.7 478.6h0M374.7 478.2h0M375.7 479.3h0M376.7 478.3h0M377.7 479.8h0M378.7 479.4h0M379.7 478.2h0M380.7 478.1h0M381.7 478.3h0M382.7 479.4h0M383.7 478.0h0M384.7 477.5h0M385.7 478.3h0M386.7 478.6h0M387.7 478.1h0M388.7 479.7h0M389.7 479.1h0M390.7 479.3h0M391.7 478.4h0M392.7 478.6h0M393.7 478.3h0M394.7 476.8h0M395.7 478.2h0M396.7 477.0h0M397.7 478.1h0M398.7 477.2h0M399.7 479.3h0M400.7 478.1h0M401.7 478.3h0M402.7 478.2h0M403.7 476.9h0M404.7 476.4h0M405.7 477.8h0M406.7 478.8h0M407.7 478.3h0M408.7 478.7h0M409.7 478.5h0M410.7 476.8h0M411.7 477.5h0M412.7 478.3h0M413.7 476.7h0M414.7 475.9h0M415.7 477.0h0M416.7 476.8h0M417.7 477.3h0M418.7 476.4h0M419.7 476.8h0M420.7 475.3h0M421.7 477.0h0M422.7 477.4h0M423.7 477.2h0M424.7 475.5h0M425.7 476.5h0M426.7 474.5h0M427.7 476.5h0M428.7 476.4h0M429.7 475.9h0M430.7 476.8h0M431.7 476.8h0M432.7 477.2h0M433.7 476.7h0M434.7 476.5h0M435.7 475.0h0M436.7 475.2h0M437.7 475.3h0M438.7 475.5h0M439.7 475.1h0M440.7 475.8h0M441.7 474.4h0M442.7 474.9h0M443.7 475.5h0M444.7 475.4h0M445.7 475.9h0M446.7 475.3h0M447.7 476.3h0M448.7 475.2h0M449.7 475.9h0M450.7 475.0h0M451.7 475.6h0M452.7 473.6h0M453.7 474.3h0M454.7 473.4h0M455.7 473.5h0M456.7 474.0h0M457.7 472.6h0M458.7 472.7h0M459.7 472.9h0M460.7 473.5h0M461.7 472.0h0M462.7 472.7h0M463.7 471.5h0M464.7 471.2h0M465.7 471.3h0M466.7 471.4h0M467.7 470.6h0M468.7 470.5h0M469.7 470.6h0M470.7 470.3h0M471.7 468.6h0M472.7 469.8h0M473.7 469.9h0M474.7 470.4h0M475.7 470.7h0M476.7 469.7h0M477.7 469.1h0M478.7 468.3h0M479.7 468.7h0M480.7 468.9h0M481.7 469.0h0M482.7 467.5h0M483.7 468.1h0M484.7 468.3h0M485.7 468.7h0M486.7 467.6h0M487.7 466.8h0M488.7 466.3h0M489.7 466.0h0M490.7 465.3h0M491.7 465.7h0M492.7 465.3h0M493.7 464.7h0M494.7 464.5h0M495.7 463.0h0M496.7 463.2h0M497.7 462.5h0M498.7 462.6h0M499.7 463.2h0M500.7 462.4h0M501.7 461.1h0M502.7 461.9h0M503.7 461.3h0M504.7 460.4h0M505.7 460.4h0M506.7 461.0h0M507.7 461.0h0M508.7 459.2h0M509.7 459.6h0M510.7 459.3h0M511.7 457.4h0M512.7 457.7h0M513.7 457.2h0M514.7 457.0h0M515.7 455.5h0M516.7 455.9h0M517.7 456.3h0M518.7 456.2h0M519.7 456.2h0M520.7 454.7h0M521.7 455.7h0M522.7 454.7h0M523.7 453.2h0M524.7 454.1h0M525.7 453.1h0M526.7 453.1h0M527.7 452.3h0M528.7 452.3h0M529.7 451.1h0M530.7 450.0h0M531.7 450.0h0M532.7 449.0h0M533.7 448.3h0M534.7 448.9h0M535.7 447.9h0M536.7 447.6h0M537.7 447.3h0M538.7 446.4h0M539.7 446.3h0M540.7 446.8h0M541.7 445.0h0M542.7 445.0h0M543.7 444.1h0M544.7 443.8h0M545.7 444.3h0M546.7 443.5h0M547.7 442.2h0M548.7 442.0h0M549.7 441.1h0M550.7 440.6h0M551.7 440.0h0M552.7 439.5h0M553.7 439.5h0M554.7 439.1h0M555.7 438.5h0M556.7 437.7h0M557.7 436.8h0M558.7 436.7h0M559.7 435.9h0M560.7 436.0h0M561.7 435.3h0M562.7 434.8h0M563.7 433.8h0M564.7 432.7h0M565.7 432.9h0M566.7 432.2h0M567.7 430.6h0M568.7 430.4h0M569.7 430.0h0M570.7 428.7h0M571.7 428.9h0M572.7 427.7h0M573.7 426.9h0M574.7 427.0h0M575.7 426.0h0M576.7 424.6h0M577.7 423.9h0M578.7 422.1h0M579.7 421.9h0M580.7 420.5h0M581.7 420.2h0M582.7 419.5h0M583.7 419.1h0M584.7 418.6h0M585.7 417.6h0M586.7 417.3h0M587.7 416.3h0M588.7 415.5h0M589.7 414.7h0M590.7 413.5h0M591.7 412.3h0M592.7 411.4h0M593.7 410.1h0M594.7 409.1h0M595.7 408.1h0M596.7 407.1h0M597.8 406.1h0M599.0 405.2h0M600.4 404.2h0M601.9 402.9h0M603.7 401.3h0M605.6 399.9h0M607.8 397.6h0M610.3 395.4h0M612.8 393.6h0M615.3 392.5h0M617.8 390.9h0M620.3 388.8h0M622.8 387.0h0M625.3 385.1h0M627.8 383.2h0M630.3 381.2h0M632.8 379.3h0M637.6 374.6h0M642.8 370.2h0M649.3 364.2h0M655.8 358.4h0M660.3 354.3h0"/>
<path class="d" stroke="#0f0" d="M68.7 475.3h0M69.7 475.7h0M70.7 474.3h0M71.7 475.7h0M72.7 474.8h0M73.7 473.8h0M74.7 474.7h0M75.7 475.8h0M76.7 475.6h0M77.7 474.5h0M78.7 476.0h0M79.7 475.4h0M80.7 475.8h0M81.7 475.7h0M82.7 474.4h0M83.7 475.7h0M84.7 474.9h0M85.7 476.7h0M86.7 476.1h0M87.7 475.5h0M88.7 474.7h0M89.7 475.5h0M90.7 475.6h0M91.7 474.4h0M92.7 477.4h0M93.7 475.9h0M94.7 477.0h0M95.7 474.7h0M96.7 477.0h0M97.7 474.4h0M98.7 474.9h0M99.7 475.8h0M100.7 475.2h0M101.7 473.0h0M102.7 474.0h0M103.7 475.7h0M104.7 476.8h0M105.7 475.9h0M106.7 475.0h0M107.7 475.9h0M108.7 474.3h0M109.7 475.7h0M110.7 474.1h0M111.7 475.2h0M112.7 475.1h0M113.7 475.9h0M114.7 475.0h0M115.7 476.3h0M116.7 475.1h0M117.7 475.9h0M118.7 475.8h0M119.7 473.6h0M120.7 475.2h0M121.7 475.3h0M122.7 474.7h0M123.7 475.6h0M124.7 474.3h0M125.7 476.0h0M126.7 475.9h0M127.7 475.6h0M128.7 477.4h0M129.7 475.6h0M130.7 475.3h0M131.7 474.6h0M132.7 475.4h0M133.7 474.2h0M134.7 476.1h0M135.7 474.4h0M136.7 475.1h0M137.7 476.7h0M138.7 476.1h0M139.7 475.4h0M140.7 476.4h0M141.7 475.2h0M142.7 476.0h0M143.7 475.3h0M144.7 474.4h0M145.7 475.5h0M146.7 475.9h0M147.7 474.8h0M148.7 474.1h0M149.7 474.7h0M150.7 473.1h0M151.7 474.7h0M152.7 474.3h0M153.7 476.9h0M154.7 474.7h0M155.7 474.0h0M156.7 476.1h0M157.7 475.3h0M158.7 475.5h0M159.7 475.7h0M160.7 475.8h0M161.7 475.3h0M162.7 476.5h0M163.7 476.1h0M164.7 475.2h0M165.7 475.4h0M166.7 474.7h0M167.7 475.7h0M168.7 476.1h0M169.7 476.1h0M170.7 476.1h0M171.7 475.4h0M172.7 476.8h0M173.7 475.1h0M174.7 475.2h0M175.7 474.9h0M176.7 475.2h0M177.7 475.0h0M178.7 477.0h0M179.7 475.7h0M180.7 474.0h0M181.7 475.1h0M182.7 474.3h0M183.7 476.3h0M184.7 476.8h0M185.7 475.4h0M186.7 476.4h0M187.7 475.7h0M188.7 476.3h0M189.7 477.4h0M190.7 475.6h0M191.7 474.8h0M192.7 476.4h0M193.7 476.2h0M194.7 476.2h0M195.7 476.4h0M196.7 475.0h0M197.7 473.9h0M198.7 476.5h0M199.7 475.3h0M200.7 474.7h0M201.7 474.6h0M202.7 476.5h0M203.7 475.6h0M204.7 475.6h0M205.7 476.0h0M206.7 474.7h0M207.7 474.3h0M208.7 474.5h0M209.7 474.3h0M210.7 474.8h0M211.7 474.2h0M216.3 474.9h0M222.6 474.2h0M228.7 474.3h0M229.7 475.1h0M230.7 476.1h0M231.7 476.5h0M232.7 475.6h0M233.7 475.8h0M234.7 475.2h0M235.7 476.4h0M236.7 476.6h0M237.7 474.7h0M238.7 475.7h0M239.7 474.8h0M240.7 475.0h0M241.7 475.3h0M242.7 474.8h0M243.7 475.9h0M244.7 473.8h0M245.7 474.4h0M246.7 474.9h0M247.7 474.2h0M248.7 475.4h0M249.7 473.8h0M250.7 475.2h0M251.7 474.0h0M252.7 475.1h0M253.7 475.7h0M254.7 477.2h0M255.7 476.3h0M256.7 476.8h0M257.7 475.6h0M258.7 477.4h0M259.7 475.3h0M260.7 475.3h0M261.7 474.3h0M262.7 475.5h0M263.7 476.2h0M264.7 474.7h0M265.7 475.0h0M266.7 475.0h0M267.7 475.1h0M268.7 474.9h0M269.7 474.2h0M270.7 476.4h0M271.7 473.5h0M272.7 474.3h0M273.7 475.4h0M274.7 476.0h0M275.7 475.0h0M276.7 475.0h0M277.7 475.3h0M278.7 475.0h0M279.7 475.9h0M280.7 474.8h0M281.7 474.4h0M282.7 474.8h0M283.7 475.3h0M284.7 476.2h0M285.7 476.5h0M286.7 474.8h0M287.7 473.9h0M288.7 473.9h0M289.7 476.8h0M290.7 474.6h0M291.7 475.3h0M292.7 476.5h0M293.7 474.2h0M294.7 474.6h0M295.7 474.3h0M296.7 473.8h0M297.7 475.5h0M298.7 475.7h0M299.7 473.3h0M300.7 474.2h0M301.7 471.4h0M302.7 472.0h0M303.7 472.2h0M304.7 471.1h0M305.7 472.0h0M306.7 471.6h0M307.7 474.2h0M308.7 474.5h0M309.7 472.9h0M310.7 471.9h0M311.7 474.0h0M312.7 473.0h0M313.7 474.8h0M314.7 475.1h0M315.7 475.0h0M316.7 473.3h0M317.7 472.9h0M318.7 473.2h0M319.7 473.8h0M320.7 473.0h0M321.7 474.8h0M322.7 474.4h0M323.7 473.9h0M324.7 473.7h0M325.7 474.7h0M326.7 475.4h0M327.7 472.7h0M328.7 474.6h0M329.7 474.1h0M330.7 473.7h0M331.7 474.0h0M332.7 474.4h0M333.7 475.8h0M334.7 474.3h0M335.7 473.8h0M336.7 473.1h0M337.7 474.7h0M338.7 473.4h0M339.7 474.0h0M340.7 474.7h0M341.7 474.2h0M342.7 473.8h0M343.7 473.9h0M344.7 474.7h0M345.7 473.9h0M346.7 474.0h0M347.7 474.2h0M348.7 473.5h0M349.7 474.0h0M350.7 473.5h0M351.7 474.6h0M352.7 474.1h0M353.7 472.2h0M354.7 473.5h0M355.7 474.6h0M356.7 473.6h0M357.7 473.5h0M358.7 474.8h0M359.7 473.2h0M360.7 474.4h0M361.7 475.0h0M362.7 475.2h0M363.7 473.6h0M364.7 473.4h0M365.7 475.7h0M366.7 473.8h0M367.7 474.3h0M368.7 476.4h0M369.7 473.8h0M370.7 472.2h0M371.7 476.3h0M372.7 474.6h0M373.7 473.7h0M374.7 475.4h0M375.7 472.6h0M376.7 473.4h0M377.7 471.8h0M378.7 471.3h0M379.7 472.0h0M380.7 472.1h0M381.7 472.4h0M382.7 472.3h0M383.7 470.8h0M384.7 471.1h0M385.7 472.8h0M386.7 471.8h0M387.7 471.5h0M388.7 472.9h0M389.7 473.3h0M390.7 473.5h0M391.7 472.2h0M392.7 472.2h0M393.7 473.1h0M394.7 473.2h0M395.7 470.9h0M396.7 471.2h0M397.7 471.0h0M398.7 471.7h0M399.7 469.6h0M400.7 472.7h0M401.7 470.3h0M402.7 470.6h0M403.7 471.8h0M404.7 470.1h0M405.7 469.7h0M406.7 468.4h0M407.7 468.5h0M408.7 467.0h0M409.7 467.8h0M410.7 468.1h0M411.7 467.5h0M412.7 469.4h0M413.7 468.9h0M414.7 466.7h0M415.7 468.6h0M416.7 466.8h0M417.7 467.6h0M418.7 466.1h0M419.7 466.2h0M420.7 466.7h0M421.7 468.1h0M422.7 465.2h0M423.7 466.3h0M424.7 466.3h0M425.7 467.3h0M426.7 465.9h0M427.7 466.2h0M428.7 466.9h0M429.7 466.4h0M430.7 465.5h0M431.7 465.5h0M432.7 465.6h0M433.7 465.8h0M434.7 464.8h0M435.7 465.3h0M436.7 465.7h0M437.7 464.7h0M438.7 464.3h0M439.7 464.4h0M440.7 464.3h0M441.7 462.0h0M442.7 462.0h0M443.7 463.8h0M444.7 462.8h0M445.7 462.1h0M446.7 463.3h0M447.7 464.7h0M448.7 462.9h0M449.7 462.5h0M450.7 462.8h0M451.7 463.8h0M452.7 461.4h0M453.7 461.9h0M454.7 461.8h0M455.7 461.0h0M456.7 459.7h0M457.7 460.1h0M458.7 459.4h0M459.7 459.7h0M460.7 459.3h0M461.7 459.0h0M462.7 457.3h0M463.7 459.1h0M464.7 458.1h0M465.7 455.9h0M466.7 456.9h0M467.7 456.4h0M468.7 455.4h0M469.7 452.9h0M470.7 454.0h0M471.7 453.7h0M472.7 454.2h0M473.7 452.5h0M474.7 454.6h0M475.7 454.6h0M476.7 454.4h0M477.7 453.5h0M478.7 453.1h0M479.7 453.6h0M480.7 452.8h0M481.7 451.8h0M482.7 452.2h0M483.7 452.3h0M484.7 452.3h0M485.7 451.3h0M486.7 449.7h0M487.7 449.2h0M488.7 449.3h0M489.7 448.9h0M490.7 449.3h0M491.7 446.6h0M492.7 447.4h0M493.7 446.7h0M494.7 448.1h0M495.7 447.3h0M496.7 446.4h0M497.7 446.3h0M498.7 444.7h0M499.7 445.2h0M500.7 444.3h0M501.7 443.6h0M502.7 442.8h0M503.7 443.0h0M504.7 442.3h0M505.7 439.5h0M506.7 439.4h0M507.7 439.1h0M508.7 438.6h0M509.7 435.9h0M510.7 435.6h0M511.7 435.3h0M512.7 436.2h0M513.7 433.3h0M514.7 432.8h0M515.7 432.2h0M516.7 431.1h0M517.7 430.2h0M518.7 429.0h0M519.7 428.0h0M520.7 427.6h0M521.7 426.9h0M522.7 426.4h0M523.7 425.9h0M524.7 424.1h0M525.7 424.5h0M526.7 423.7h0M527.7 423.2h0M528.7 422.1h0M529.7 421.9h0M530.7 419.4h0M531.7 419.1h0M532.7 418.5h0M533.7 416.9h0M534.7 416.2h0M535.7 415.1h0M536.7 414.2h0M537.7 415.4h0M538.7 413.3h0M539.7 413.9h0M540.7 411.8h0M541.7 411.9h0M542.7 410.6h0M543.7 410.5h0M544.7 410.5h0M545.7 409.8h0M546.7 408.3h0M547.7 407.2h0M548.7 406.0h0M549.7 405.2h0M550.7 404.7h0M551.7 401.9h0M552.7 401.7h0M553.7 400.3h0M554.7 400.4h0M555.7 398.2h0M556.7 398.4h0M557.7 396.6h0M558.7 396.0h0M559.7 396.8h0M560.7 395.8h0M561.7 393.9h0M562.7 392.4h0M563.7 391.5h0M564.7 391.0h0M565.7 389.5h0M566.7 387.9h0M567.7 387.4h0M568.7 386.6h0M569.7 384.4h0M570.7 383.7h0M571.7 382.6h0M572.7 382.7h0M573.7 381.6h0M574.7 380.7h0M575.7 379.5h0M576.7 379.1h0M577.7 377.5h0M578.7 376.5h0M579.7 375.1h0M580.7 374.1h0M581.7 372.1h0M582.7 371.2h0M583.7 370.2h0M584.7 369.2h0M585.7 367.4h0M586.7 366.0h0M587.7 364.8h0M588.7 363.7h0M589.7 362.8h0M590.7 361.6h0M591.7 360.7h0M592.7 359.5h0M593.7 358.8h0M594.7 357.1h0M595.7 356.2h0M596.7 354.7h0M597.8 353.8h0M599.0 352.8h0M600.4 350.8h0M601.9 349.1h0M603.7 347.6h0M605.6 345.3h0M607.8 342.5h0M610.3 339.5h0M612.8 336.3h0M615.3 333.3h0M617.8 330.0h0M620.3 326.8h0M622.8 323.6h0M625.3 320.3h0M627.8 317.3h0M630.3 314.6h0M634.2 311.6h0M638.1 305.6h0M643.3 300.9h0M649.8 292.8h0M656.4 280.3h0M660.3 276.9h0"/>
<!-- axes -->
<path d="M37.30 4.90L675.65 4.90M43.30 4.90L43.30 491.10M675.00 4.90L675.00 497.10M43.30 248.10L675.00 248.10M37.30 491.10L675.00 491.10M43.30 491.10L43.30 497.10M74.88 4.90L74.88 7.90M74.88 248.10L74.88 251.10M74.88 491.10L74.88 494.10M106.47 4.90L106.47 10.90M106.47 242.10L106.47 254.10M106.47 491.10L106.47 497.10M138.06 4.90L138.06 7.90M138.06 248.10L138.06 251.10M138.06 491.10L138.06 494.10M169.64 4.90L169.64 10.90M169.64 242.10L169.64 254.10M169.64 491.10L169.64 497.10M201.23 4.90L201.23 7.90M201.23 248.10L201.23 251.10M201.23 491.10L201.23 494.10M232.81 4.90L232.81 10.90M232.81 242.10L232.81 254.10M232.81 491.10L232.81 497.10M264.39 4.90L264.39 7.90M264.39 248.10L264.39 251.10M264.39 491.10L264.39 494.10M295.98 4.90L295.98 10.90M295.98 242.10L295.98 254.10M295.98 491.10L295.98 497.10M327.57 4.90L327.57 7.90M327.57 248.10L327.57 251.10M327.57 491.10L327.57 494.10M359.15 4.90L359.15 10.90M359.15 242.10L359.15 254.10M359.15 491.10L359.15 497.10M390.74 4.90L390.74 7.90M390.74 248.10L390.74 251.10M390.74 491.10L390.74 494.10M422.32 4.90L422.32 10.90M422.32 242.10L422.32 254.10M422.32 491.10L422.32 497.10M453.91 4.90L453.91 7.90M453.91 248.10L453.91 251.10M453.91 491.10L453.91 494.10M485.49 4.90L485.49 10.90M485.49 242.10L485.49 254.10M485.49 491.10L485.49 497.10M517.07 4.90L517.07 7.90M517.07 248.10L517.07 251.10M517.07 491.10L517.07 494.10M548.66 4.90L548.66 10.90M548.66 242.10L548.66 254.10M548.66 491.10L548.66 497.10M580.25 4.90L580.25 7.90M580.25 248.10L580.25 251.10M580.25 491.10L580.25 494.10M611.83 4.90L611.83 10.90M611.83 242.10L611.83 254.10M611.83 491.10L611.83 497.10M643.42 4.90L643.42 7.90M643.42 248.10L643.42 251.10M643.42 491.10L643.42 494.10M675.00 491.10L675.00 497.10M37.30 229.00L43.30 229.00M669.00 229.00L675.00 229.00M40.30 191.65L43.30 191.65M672.00 191.65L675.00 191.65M37.30 154.30L43.30 154.30M669.00 154.30L675.00 154.30M40.30 116.95L43.30 116.95M672.00 116.95L675.00 116.95M37.30 79.60L43.30 79.60M669.00 79.60L675.00 79.60M40.30 42.25L43.30 42.25M672.00 42.25L675.00 42.25M37.30 450.28L43.30 450.28M669.00 450.28L675.00 450.28M37.30 409.46L43.30 409.46M669.00 409.46L675.00 409.46M37.30 368.64L43.30 368.64M669.00 368.64L675.00 368.64M37.30 327.82L43.30 327.82M669.00 327.82L675.00 327.82M37.30 287.00L43.30 287.00M669.00 287.00L675.00 287.00" fill="none" stroke="#000" stroke-width="1.3"/>
<!-- tick labels -->
<g class="tk">
<text x="32.7" y="233.2" text-anchor="end">10.5</text>
<text x="32.7" y="158.5" text-anchor="end">10.6</text>
<text x="32.7" y="83.8" text-anchor="end">10.7</text>
<text x="32.7" y="9.1" text-anchor="end">10.8</text>
<text x="32.7" y="495.3" text-anchor="end">0.0</text>
<text x="32.7" y="454.5" text-anchor="end">0.2</text>
<text x="32.7" y="413.7" text-anchor="end">0.4</text>
<text x="32.7" y="372.8" text-anchor="end">0.6</text>
<text x="32.7" y="332.0" text-anchor="end">0.8</text>
<text x="32.7" y="291.2" text-anchor="end">1.0</text>
<text x="43.3" y="511.7" text-anchor="middle">100</text>
<text x="106.5" y="511.7" text-anchor="middle">120</text>
<text x="169.6" y="511.7" text-anchor="middle">140</text>
<text x="232.8" y="511.7" text-anchor="middle">160</text>
<text x="296.0" y="511.7" text-anchor="middle">180</text>
<text x="359.2" y="511.7" text-anchor="middle">200</text>
<text x="422.3" y="511.7" text-anchor="middle">220</text>
<text x="485.5" y="511.7" text-anchor="middle">240</text>
<text x="548.7" y="511.7" text-anchor="middle">260</text>
<text x="611.8" y="511.7" text-anchor="middle">280</text>
<text x="675.0" y="511.7" text-anchor="middle">300</text>
</g>
<!-- axis titles -->
<text class="ax" transform="translate(-1.1 39.1) scale(1.17 1)">ε</text><text class="pr" x="7.9" y="41.2">'</text><text class="sub" transform="translate(12.5 46.3) scale(0.95 1)">3</text>
<text class="ax" transform="translate(-0.5 265.9) scale(1.17 1)">ε</text><text class="pr" x="8.1" y="267.2">"</text><text class="sub" transform="translate(16.8 271.7) scale(0.95 1)">3</text>
<text class="lg" transform="translate(359.3 534.8) scale(1.06 1)" text-anchor="middle">Temperature [K]</text>
<!-- panel letters -->
<text class="pl" x="158.9" y="93.9">a</text>
<text class="pl" x="148.4" y="323.5">b</text>
<!-- legend top -->
<rect x="390.5" y="57.8" width="105.8" height="20.4" fill="#fff" stroke="#444" stroke-width="1"/>
<circle cx="408.8" cy="68.1" r="2.35"/>
<text class="lg" transform="translate(487.7 73.3) scale(1.06 1)" text-anchor="end">100 kHz</text>
<!-- legend bottom -->
<rect x="381.5" y="281.5" width="105.1" height="85.1" fill="#fff" stroke="#333" stroke-width="1"/>
<circle cx="399.3" cy="296.5" r="2.35" fill="#000"/>
<circle cx="399.3" cy="315.3" r="2.35" fill="#f00"/>
<circle cx="399.3" cy="334.1" r="2.35" fill="#00f"/>
<circle cx="399.3" cy="353.0" r="2.35" fill="#0f0"/>
<text class="lg" transform="translate(478.3 301.7) scale(1.06 1)" text-anchor="end">100 kHz</text>
<text class="lg" transform="translate(478.3 320.5) scale(1.06 1)" text-anchor="end">50 kHz</text>
<text class="lg" transform="translate(478.3 339.3) scale(1.06 1)" text-anchor="end">20 kHz</text>
<text class="lg" transform="translate(478.3 358.1) scale(1.06 1)" text-anchor="end">10 kHz</text>
</svg>
</body>
</html>
